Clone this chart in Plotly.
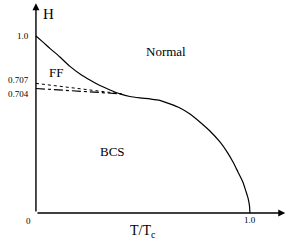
import plotly.graph_objects as go

# Phase boundary H(T) (schematic)
t_boundary = [0.0, 0.033, 0.065, 0.112, 0.159, 0.206, 0.252, 0.299, 0.346, 0.393,
              0.439, 0.486, 0.533, 0.579, 0.626, 0.673, 0.720, 0.766, 0.813, 0.860,
              0.893, 0.921, 0.944, 0.967, 0.981, 0.991, 0.998, 1.0]
h_boundary = [1.0, 0.965, 0.930, 0.881, 0.828, 0.785, 0.751, 0.720, 0.695, 0.673,
              0.658, 0.650, 0.644, 0.636, 0.616, 0.593, 0.559, 0.514, 0.463, 0.401,
              0.345, 0.288, 0.232, 0.175, 0.124, 0.085, 0.040, 0.0]

# FF / BCS lower lines
t_ff = [0.0, 0.2, 0.40]
h_ff_dot = [0.732, 0.703, 0.673]
h_ff_dashdot = [0.703, 0.689, 0.673]

serif = "Liberation Serif"

fig = go.Figure()
fig.add_trace(go.Scatter(x=t_boundary, y=h_boundary, mode="lines",
                         line=dict(color="black", width=1.2, shape="spline", smoothing=0.6),
                         hoverinfo="skip"))
fig.add_trace(go.Scatter(x=t_ff, y=h_ff_dot, mode="lines",
                         line=dict(color="black", width=1, dash="dot"),
                         hoverinfo="skip"))
fig.add_trace(go.Scatter(x=t_ff, y=h_ff_dashdot, mode="lines",
                         line=dict(color="black", width=1.2, dash="dashdot"),
                         hoverinfo="skip"))

annotations = []
# axes with arrows
annotations.append(dict(x=1.165, y=0, ax=0, ay=0, xref="x", yref="y", axref="x", ayref="y",
                        showarrow=True, arrowhead=2, arrowsize=1, arrowwidth=1.4,
                        arrowcolor="black", text=""))
annotations.append(dict(x=0, y=1.185, ax=0, ay=0, xref="x", yref="y", axref="x", ayref="y",
                        showarrow=True, arrowhead=2, arrowsize=1, arrowwidth=1.4,
                        arrowcolor="black", text=""))

def txt(x, y, s, size, xanchor="center"):
    annotations.append(dict(x=x, y=y, xref="x", yref="y", text=s, showarrow=False,
                            xanchor=xanchor, yanchor="middle",
                            font=dict(family=serif, size=size, color="black")))

txt(0.057, 1.125, "H", 15)
txt(-0.025, 1.0, "1.0", 9, "right")
txt(-0.025, 0.751, "0.707", 9, "right")
txt(-0.025, 0.672, "0.704", 9, "right")
txt(-0.035, -0.046, "0", 9)
txt(1.0, -0.04, "1.0", 9)
txt(0.50, -0.105, "T/T<sub>c</sub>", 14)
txt(0.61, 0.91, "Normal", 13)
txt(0.094, 0.795, "FF", 13)
txt(0.36, 0.345, "BCS", 13)

fig.update_layout(
    width=291, height=242,
    margin=dict(l=0, r=0, t=0, b=0),
    paper_bgcolor="white", plot_bgcolor="white",
    showlegend=False,
    xaxis=dict(range=[-0.168, 1.192], visible=False, fixedrange=True),
    yaxis=dict(range=[-0.164, 1.203], visible=False, fixedrange=True),
    annotations=annotations,
)
fig.write_html("out.html", config={"displayModeBar": False},
               post_script="document.body.style.margin='0';document.body.style.overflow='hidden';")
